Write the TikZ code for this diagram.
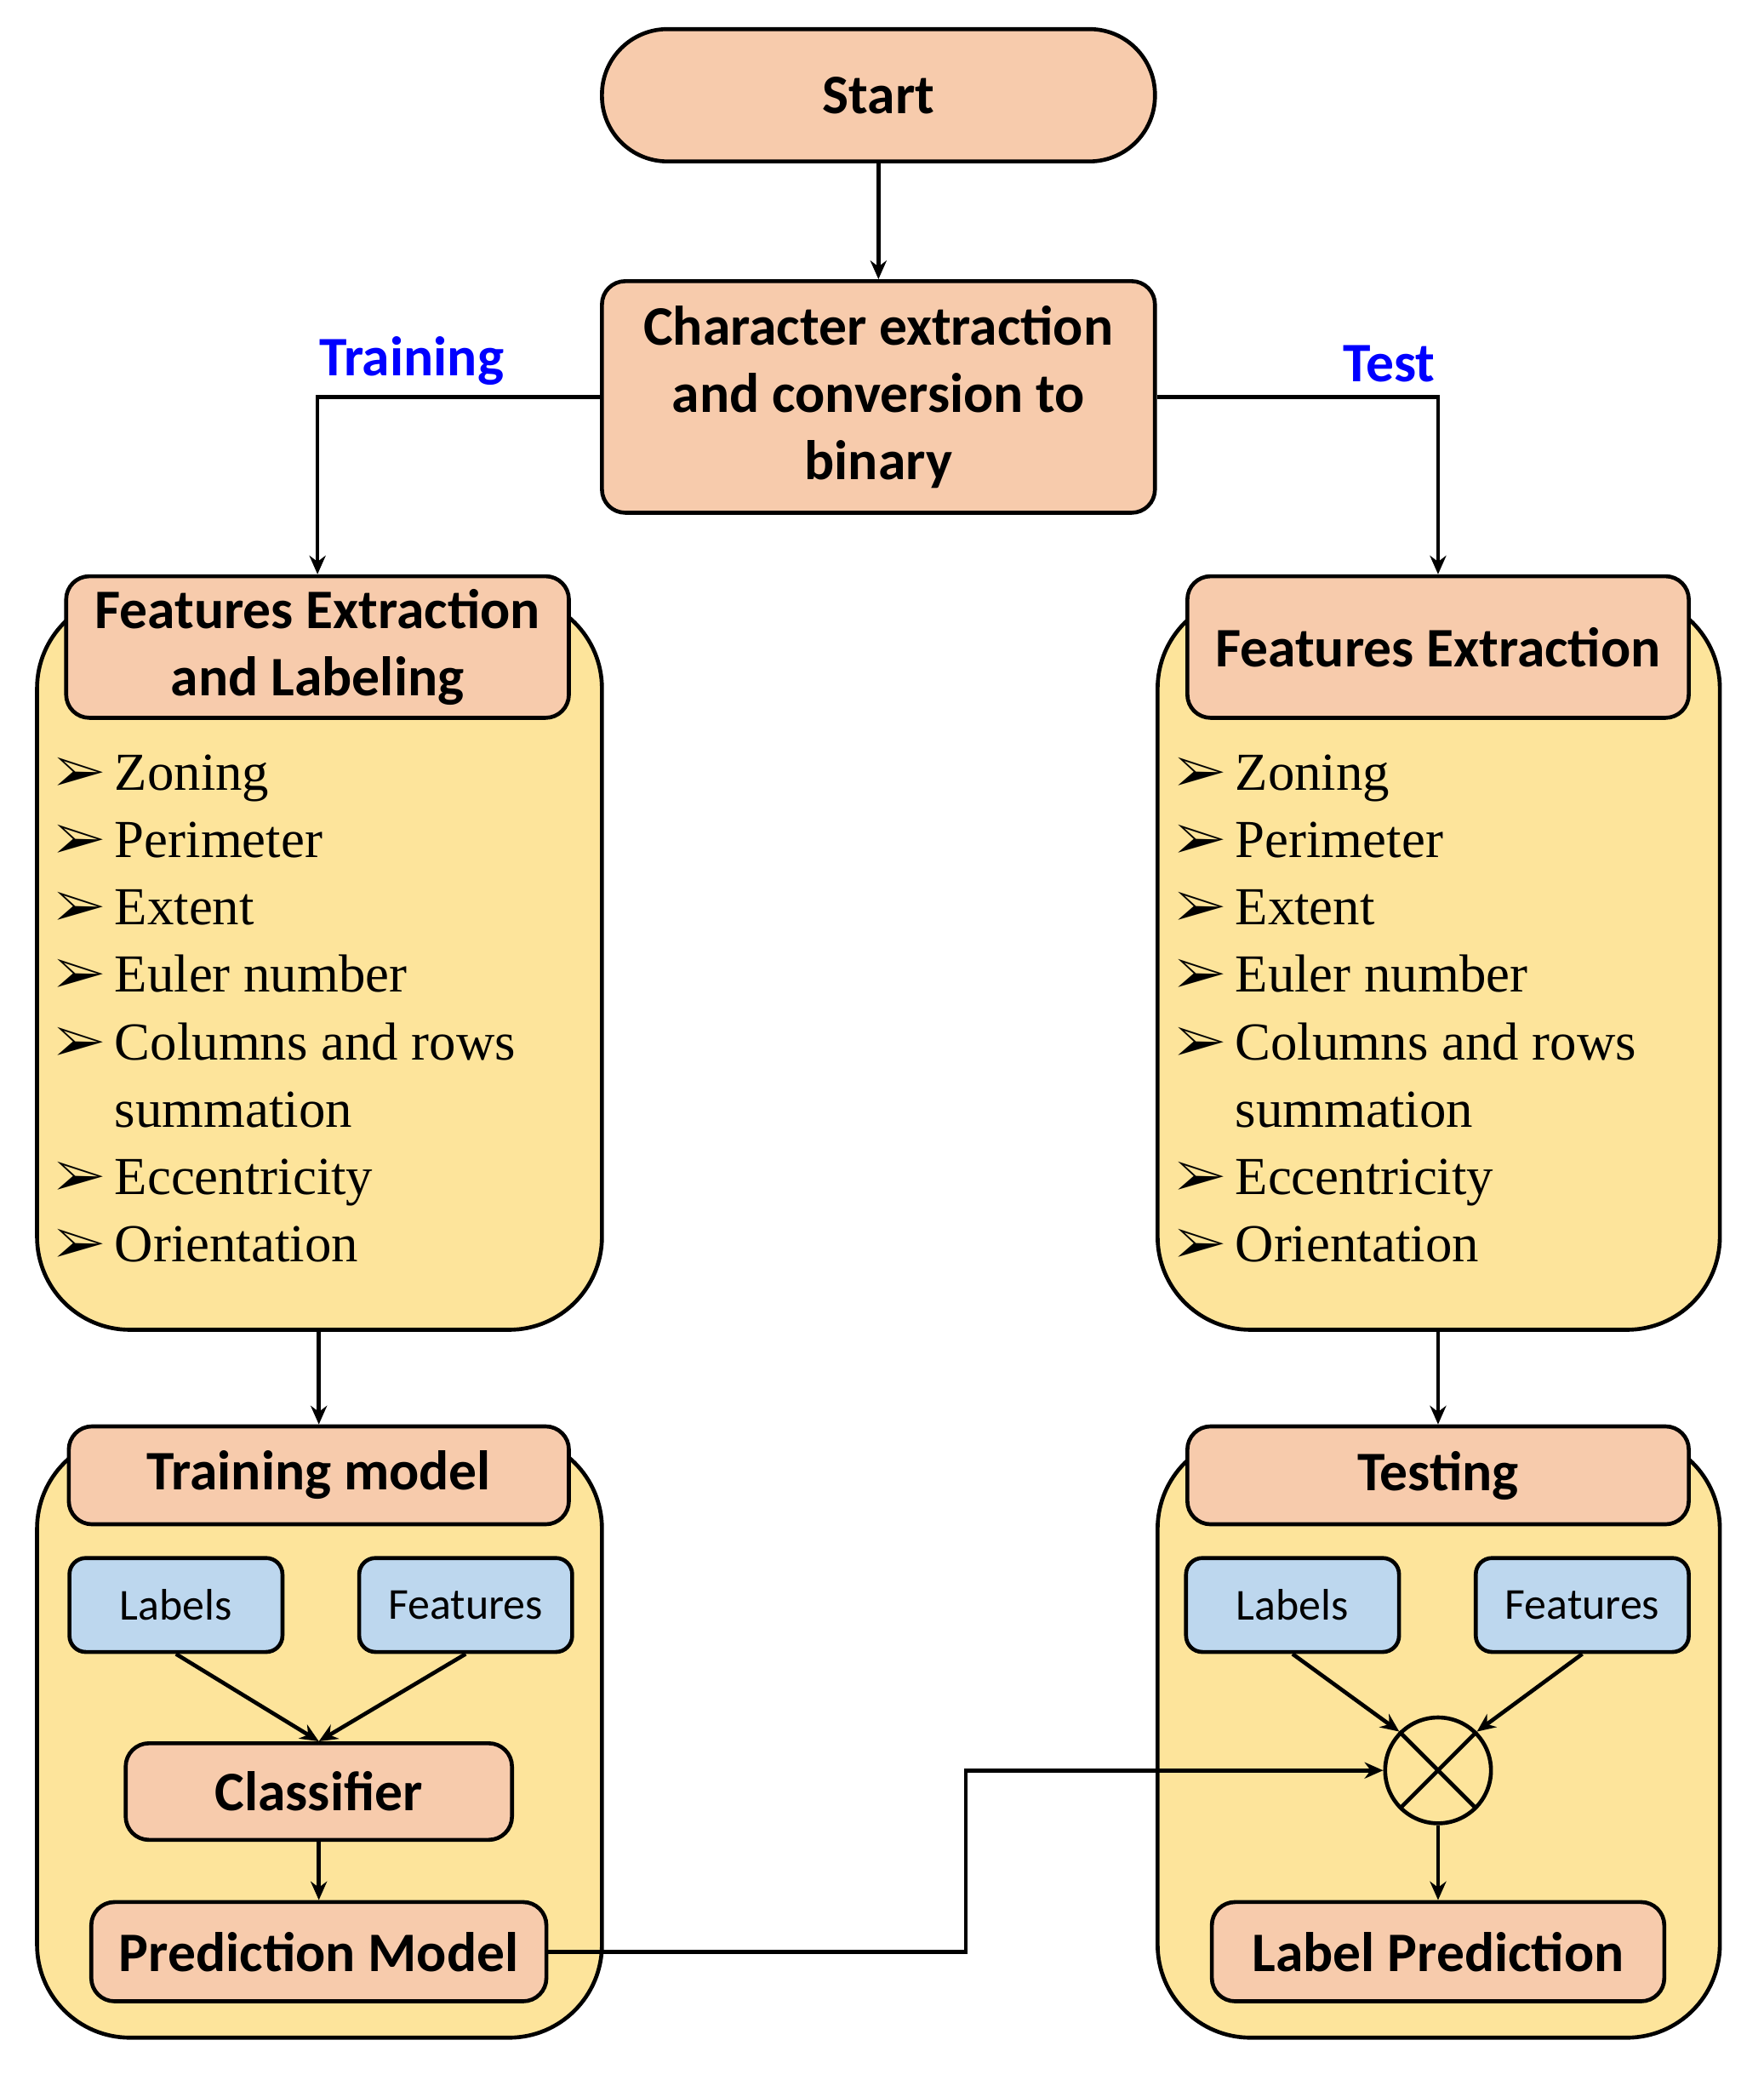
\documentclass[tikz,border=0pt]{standalone}
\usepackage{fontspec}
\usepackage{pifont}
\setmainfont{Carlito}
\newfontfamily\serifl{Liberation Serif}
\usetikzlibrary{arrows.meta}
\definecolor{sal}{HTML}{F7CBAC}
\definecolor{yel}{HTML}{FDE49B}
\definecolor{blu}{HTML}{BDD7EE}
\newcommand{\bul}{\ding{226}\hspace{4pt}}
\begin{document}
\begin{tikzpicture}[x=0.02cm,y=-0.02cm,
 lw/.style={line width=1.7pt},
 box/.style={lw,draw,fill=sal,rounded corners=10pt,inner sep=0pt,align=center,font=\fontsize{24}{29}\selectfont\bfseries},
 yb/.style={lw,draw,fill=yel,rounded corners=40pt},
 sb/.style={lw,draw,fill=blu,rounded corners=7pt,inner sep=0pt,font=\fontsize{19}{23}\selectfont},
 ar/.style={lw,-{Stealth[length=8pt,width=7pt]}},
 lst/.style={anchor=north west,align=left,inner sep=0pt,font=\serifl\fontsize{23}{29}\selectfont},
 bl/.style={font=\fontsize{24}{29}\selectfont\bfseries,text=blue}]
\useasboundingbox (0,0) rectangle (1333,1572);
% containers
\draw[yb] (28,450) rectangle (455,1005);
\draw[yb] (875,450) rectangle (1300,1005);
\draw[yb] (28,1085) rectangle (455,1540);
\draw[yb] (875,1085) rectangle (1300,1540);
% nodes
\node[box,rounded corners=0.99cm,minimum width=418*0.02cm,minimum height=100*0.02cm] (start) at (664,72) {Start};
\node[box,minimum width=418*0.02cm,minimum height=175*0.02cm] (char) at (664,300) {Character extraction\\and conversion to\\binary};
\node[box,minimum width=380*0.02cm,minimum height=107*0.02cm] (fel) at (240,489) {Features Extraction\\and Labeling};
\node[box,minimum width=379*0.02cm,minimum height=107*0.02cm] (fe) at (1087,489) {Features Extraction};
\coordinate (ylb) at (241,1005);
\coordinate (yrb) at (1087,1005);
\node[lst] (l1) at (42,570) {\bul Zoning\\\bul Perimeter\\\bul Extent\\\bul Euler number\\\bul Columns and rows\\\phantom{\bul}summation\\\bul Eccentricity\\\bul Orientation};
\node[lst] (l2) at (889,570) {\bul Zoning\\\bul Perimeter\\\bul Extent\\\bul Euler number\\\bul Columns and rows\\\phantom{\bul}summation\\\bul Eccentricity\\\bul Orientation};
\node[box,minimum width=378*0.02cm,minimum height=74*0.02cm] (tm) at (241,1115) {Training model};
\node[box,minimum width=379*0.02cm,minimum height=74*0.02cm] (ts) at (1087,1115) {Testing};
\node[sb,minimum width=161*0.02cm,minimum height=71*0.02cm] (lab1) at (133,1213) {Labels};
\node[sb,minimum width=161*0.02cm,minimum height=71*0.02cm] (fea1) at (352,1213) {Features};
\node[sb,minimum width=161*0.02cm,minimum height=71*0.02cm] (lab2) at (977,1213) {Labels};
\node[sb,minimum width=161*0.02cm,minimum height=71*0.02cm] (fea2) at (1196,1213) {Features};
\node[box,minimum width=292*0.02cm,minimum height=73*0.02cm] (cls) at (241,1354) {Classifier};
\node[box,minimum width=344*0.02cm,minimum height=75*0.02cm] (pm) at (241,1475) {Prediction Model};
\node[box,minimum width=342*0.02cm,minimum height=75*0.02cm] (lp) at (1087,1475) {Label Prediction};
\node[lw,draw,circle,minimum size=80*0.02cm,inner sep=0pt] (x) at (1087,1338) {};
\draw[lw] (x.north west) -- (x.south east) (x.north east) -- (x.south west);
% labels
\node[bl] (tr) at (311,273) {Training};
\node[bl] (te) at (1050,275) {Test};
% connectors
\draw[ar] (start) -- (char);
\draw[ar] (char.west) -| (fel.north);
\draw[ar] (char.east) -| (fe.north);
\draw[ar] (ylb) -- (tm.north);
\draw[ar] (yrb) -- (ts.north);
\draw[ar] (lab1.south) -- (cls.north);
\draw[ar] (fea1.south) -- (cls.north);
\draw[ar] (cls) -- (pm);
\draw[ar] (pm.east) -- (730,1475) |- (x.west);
\draw[ar] (lab2.south) -- (x.north west);
\draw[ar] (fea2.south) -- (x.north east);
\draw[ar] (x) -- (lp);
\end{tikzpicture}
\end{document}
